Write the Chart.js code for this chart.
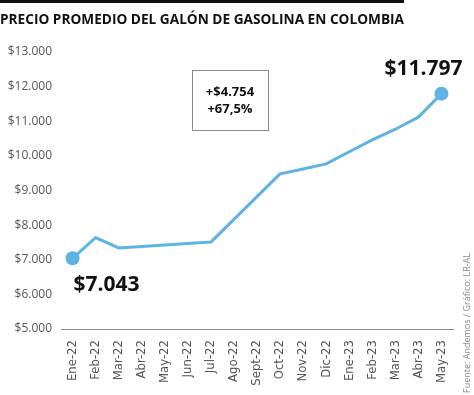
<!DOCTYPE html>
<html>
<head>
<meta charset="utf-8">
<script src="https://cdn.jsdelivr.net/npm/chart.js@4"></script>
<style>
html,body{margin:0;padding:0;background:#fff;}
#wrap{width:474px;height:395px;position:relative;}
</style>
</head>
<body>
<div id="wrap"><canvas id="c" width="474" height="395"></canvas></div>
<script>
const titleText = "PRECIO PROMEDIO DEL GALÓN DE GASOLINA EN COLOMBIA";
const sourceText = "Fuente: Andemos / Gráfico: LR-AL";
const categories = ["Ene-22","Feb-22","Mar-22","Abr-22","May-22","Jun-22","Jul-22","Ago-22","Sept-22","Oct-22","Nov-22","Dic-22","Ene-23","Feb-23","Mar-23","Abr-23","May-23"];
const prices = [7043, 7640, 7340, null, null, null, 7510, null, null, 9480, 9620, 9770, 10120, 10460, 10770, 11120, 11797];
const yTicks = [5000, 6000, 7000, 8000, 9000, 10000, 11000, 12000, 13000];
const boxLines = ["+$4.754", "+67,5%"];
const firstLabel = "$7.043";
const lastLabel = "$11.797";

const LINE = "#5cb3e4";
const fmt = v => "$" + v.toLocaleString("de-DE");

const decor = {
  id: "decor",
  afterDraw(chart) {
    const ctx = chart.ctx;
    const xs = chart.scales.x, ys = chart.scales.y;
    ctx.save();
    // top bar
    ctx.fillStyle = "#111";
    ctx.fillRect(0, 0, 404, 3);
    // title
    ctx.font = "bold 15px 'Open Sans'";
    ctx.fillStyle = "#111";
    ctx.textBaseline = "alphabetic";
    ctx.textAlign = "left";
    const w = ctx.measureText(titleText).width;
    const sx = 404 / w;
    ctx.save();
    ctx.translate(0, 24);
    ctx.scale(sx, 1);
    ctx.fillText(titleText, 0, 0);
    ctx.restore();
    // first / last labels
    ctx.font = "bold 21px 'Open Sans'";
    ctx.fillStyle = "#111";
    ctx.textBaseline = "middle";
    ctx.textAlign = "left";
    const x0 = xs.getPixelForValue(0), y0 = ys.getPixelForValue(prices[0]);
    ctx.fillText(firstLabel, x0 + 1, y0 + 27);
    const n = prices.length - 1;
    const xn = xs.getPixelForValue(n), yn = ys.getPixelForValue(prices[n]);
    ctx.textAlign = "right";
    ctx.fillText(lastLabel, xn + 21, yn - 25);
    // box
    ctx.strokeStyle = "#8a8a8a";
    ctx.lineWidth = 1;
    ctx.strokeRect(192.5, 70.5, 76, 60);
    ctx.font = "bold 13px 'Open Sans'";
    ctx.textAlign = "center";
    ctx.fillStyle = "#111";
    ctx.fillText(boxLines[0], 230, 92);
    ctx.fillText(boxLines[1], 230, 109);
    // source
    ctx.save();
    ctx.translate(467, 393);
    ctx.rotate(-Math.PI / 2);
    ctx.font = "9px 'Open Sans'";
    ctx.fillStyle = "#8a8a8a";
    ctx.textAlign = "left";
    ctx.textBaseline = "middle";
    ctx.fillText(sourceText, 0, 0);
    ctx.restore();
    ctx.restore();
  }
};

const radii = prices.map((v, i) => (i === 0 || i === prices.length - 1) ? 7 : 0);

new Chart(document.getElementById("c"), {
  type: "line",
  data: {
    labels: categories,
    datasets: [{
      data: prices,
      borderColor: LINE,
      backgroundColor: LINE,
      borderWidth: 3,
      pointRadius: radii,
      pointHoverRadius: radii,
      pointBackgroundColor: LINE,
      pointBorderWidth: 0,
      spanGaps: true,
      tension: 0,
      borderJoinStyle: "round",
      borderCapStyle: "round"
    }]
  },
  options: {
    responsive: false,
    animation: false,
    devicePixelRatio: 1,
    layout: { padding: { top: 52, right: 21, left: 0, bottom: 0 } },
    plugins: { legend: { display: false }, title: { display: false }, tooltip: { enabled: false } },
    scales: {
      x: {
        offset: true,
        grid: { display: false, drawTicks: false },
        border: { display: true, color: "#8a8a8a", width: 1 },
        ticks: {
          autoSkip: false,
          maxRotation: 90,
          minRotation: 90,
          padding: 11,
          color: "#555",
          font: { family: "'Liberation Sans Narrow', 'DejaVu Sans Condensed', 'Open Sans'", size: 13 }
        },
        afterFit(s) { s.height = 66; }
      },
      y: {
        min: 5000,
        max: 13000,
        grid: { display: false, drawTicks: false },
        border: { display: false },
        afterBuildTicks(s) { s.ticks = yTicks.map(v => ({ value: v })); },
        ticks: {
          padding: 9,
          color: "#555",
          font: { family: "'Open Sans'", size: 12 },
          callback: v => fmt(v)
        },
        afterFit(s) { s.width = 61; }
      }
    }
  },
  plugins: [decor]
});
</script>
</body>
</html>
